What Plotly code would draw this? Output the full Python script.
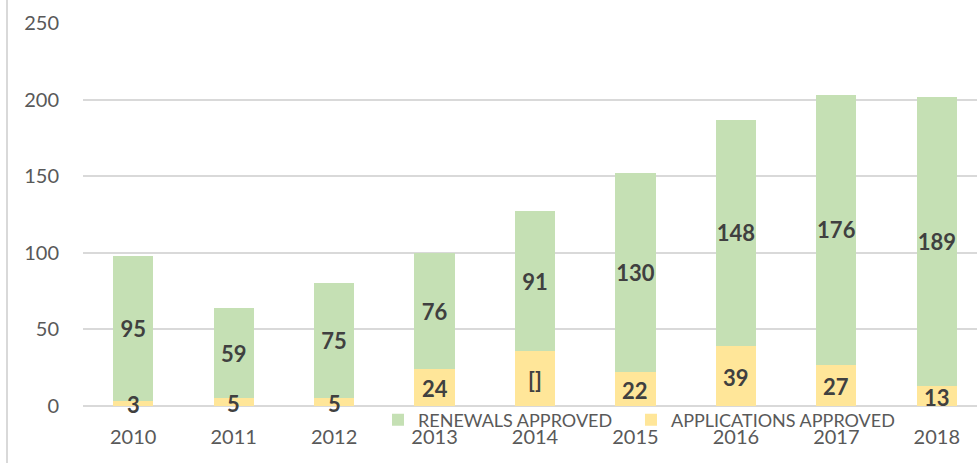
import plotly.graph_objects as go

years = ["2010", "2011", "2012", "2013", "2014", "2015", "2016", "2017", "2018"]
applications = [3, 5, 5, 24, 36, 22, 39, 27, 13]
applications_labels = ["3", "5", "5", "24", "[]", "22", "39", "27", "13"]
renewals = [95, 59, 75, 76, 91, 130, 148, 176, 189]
y_ticks = [0, 50, 100, 150, 200, 250]

FONT = "Lato"
GREEN = "#C5E0B4"
YELLOW = "#FFE699"
LABEL_FONT = dict(family=FONT, size=22, color="#404040", weight="bold")

fig = go.Figure()
fig.add_trace(go.Bar(
    x=years, y=applications, name="APPLICATIONS APPROVED",
    marker=dict(color=YELLOW, line=dict(width=0)),
))
fig.add_trace(go.Bar(
    x=years, y=renewals, name="RENEWALS APPROVED" + "\u00a0" * 3,
    marker=dict(color=GREEN, line=dict(width=0)),
    text=[str(v) for v in renewals], textposition="inside", insidetextanchor="middle",
    constraintext="none", textangle=0,
    textfont=LABEL_FONT,
))

annotations = []
for i, (v, lab) in enumerate(zip(applications, applications_labels)):
    annotations.append(dict(
        x=i, y=v / 2, xref="x", yref="y", text=lab, showarrow=False,
        font=LABEL_FONT, xanchor="center", yanchor="middle", yshift=-1,
    ))

W, H = 977, 463
L, R, T, B = 83, 0, 23, 57
pw = W - L - R
ph = H - T - B

fig.update_layout(
    width=W, height=H,
    margin=dict(l=L, r=R, t=T, b=B, pad=0, autoexpand=False),
    barmode="stack", bargap=0.6,
    paper_bgcolor="white", plot_bgcolor="white",
    font=dict(family=FONT, size=20, color="#595959"),
    showlegend=True,
    legend=dict(
        orientation="h", traceorder="reversed",
        x=(378 - L) / pw, xanchor="left",
        y=(406 - 420) / ph, yanchor="middle",
        bgcolor="rgba(0,0,0,0)",
        font=dict(family=FONT, size=18, color="#595959"),
    ),
    annotations=annotations,
    xaxis=dict(
        type="category", range=[-0.5, 8.4], automargin=False,
        showgrid=False, showline=False, ticks="",
        tickfont=dict(family=FONT, size=20, color="#595959"),
        zeroline=False, ticklabelstandoff=17,
    ),
    yaxis=dict(
        range=[0, 250], tickvals=y_ticks, automargin=False,
        showgrid=True, gridcolor="#D9D9D9", gridwidth=1.5,
        zeroline=True, zerolinecolor="#D9D9D9", zerolinewidth=1.5,
        showline=False, ticks="", ticklabelstandoff=23,
        tickfont=dict(family=FONT, size=20, color="#595959"),
    ),
    shapes=[dict(
        type="line", xref="paper", yref="paper",
        x0=(7 - L) / pw, x1=(7 - L) / pw,
        y0=-B / ph, y1=1 + T / ph,
        line=dict(color="#D9D9D9", width=2),
    )],
)

fig.write_html(
    "out.html",
    config={"displayModeBar": False},
    post_script="document.body.style.margin='0';",
)
